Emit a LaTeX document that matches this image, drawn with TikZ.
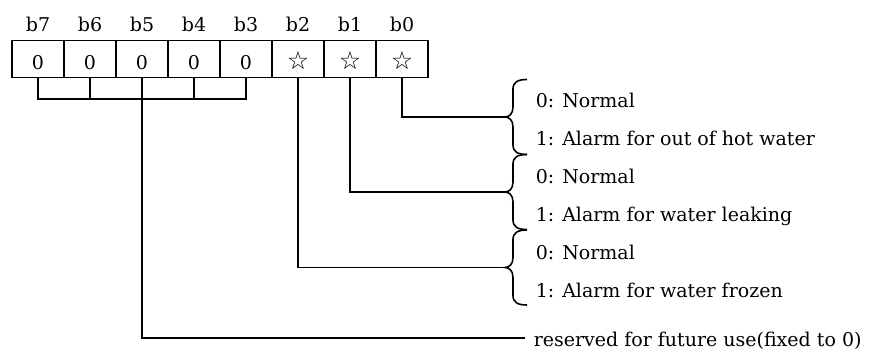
\documentclass[tikz,border=0pt]{standalone}
\usepackage{fontspec}
\setmainfont{DejaVu Serif}
\newfontfamily\symfont{DejaVu Sans}
\begin{document}
\begin{tikzpicture}[x=1pt,y=-1pt,line width=1.5pt,
  txt/.style={font=\fontsize{19}{22}\selectfont},
  cell/.style={draw,line width=1.5pt,minimum width=52pt,minimum height=37pt,inner sep=0pt,
    text height=20pt,text depth=0pt,txt},
  bitlbl/.style={anchor=base,inner sep=0pt,txt},
  desc/.style={anchor=base west,inner sep=0pt,txt},
  conn/.style={line width=1.5pt},
  bracepath/.style={line width=1.6pt},
  lbrace/.pic={\draw[bracepath] (22,-37.5) .. controls (13,-37.5) and (8,-35) .. (8,-28)
     -- (8,-10) .. controls (8,-3) and (4,0) .. (0,0)
     .. controls (4,0) and (8,3) .. (8,10)
     -- (8,28) .. controls (8,35) and (13,37.5) .. (22,37.5);}]
\useasboundingbox (0,0) rectangle (871,349);
% register cells
\foreach \b/\v [count=\i from 0] in {7/0,6/0,5/0,4/0,3/0,2/{\symfont\fontsize{25}{26}\selectfont ☆},1/{\symfont\fontsize{25}{26}\selectfont ☆},0/{\symfont\fontsize{25}{26}\selectfont ☆}}{
  \node[cell] (c\b) at (38+52*\i,59) {\v};
  \node[bitlbl] (l\b) at (38+52*\i,31) {b\b};
}
% brace tips and free ends
\coordinate (t0) at (505,117);
\coordinate (t1) at (505,192);
\coordinate (t2) at (505,267.5);
\coordinate (rsv) at (525,338);
\coordinate (bar) at (0,99);
% braces
\pic at (t0) {lbrace};
\pic at (t1) {lbrace};
\pic at (t2) {lbrace};
% connectors
\draw[conn] (c0.south) |- (t0);
\draw[conn] (c1.south) |- (t1);
\draw[conn] (c2.south) |- (t2);
\draw[conn] (c7.south) |- (c3.south |- bar) -- (c3.south);
\draw[conn] (c6.south) -- (c6.south |- bar);
\draw[conn] (c4.south) -- (c4.south |- bar);
\draw[conn] (c5.south) |- (rsv);
% descriptions
\node[desc] (d0a) at (535,107) {0: Normal};
\node[desc] (d0b) at (535,145) {1: Alarm for out of hot water};
\node[desc] (d1a) at (535,183) {0: Normal};
\node[desc] (d1b) at (535,221) {1: Alarm for water leaking};
\node[desc] (d2a) at (535,259) {0: Normal};
\node[desc] (d2b) at (535,297) {1: Alarm for water frozen};
\node[desc] (dr) at (533,346) {reserved for future use(fixed to 0)};
\end{tikzpicture}
\end{document}
